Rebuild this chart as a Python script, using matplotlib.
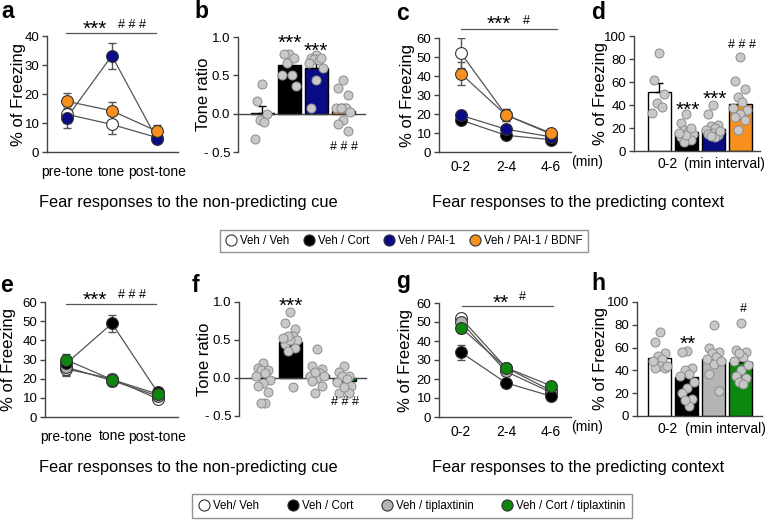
import numpy as np
import matplotlib
matplotlib.use("Agg")
import matplotlib.pyplot as plt
from matplotlib.lines import Line2D

plt.rcParams['font.family'] = ['Liberation Sans', 'DejaVu Sans']

# ---- colours ----
WHITE = '#ffffff'
BLACK = '#000000'
BLUE = '#0b0b86'
ORANGE = '#f7901e'
GRAY = '#b4b4b4'
GREEN = '#0d870d'
DOT = '#c8c8c8'

# ---- top row data ----
groups_top = ['Veh / Veh', 'Veh / Cort', 'Veh / PAI-1', 'Veh / PAI-1 / BDNF']
tone_labels = ['pre-tone', 'tone', 'post-tone']
time_labels = ['0-2', '2-4', '4-6']

# panel a (Veh/Cort not shown)
a_veh = [13, 9.5, 5]
a_veh_err = [3, 3.2, 1]
a_pai = [11.8, 33.2, 4.5]
a_pai_err = [3.5, 4.5, 1]
a_bdnf = [17.5, 14.2, 7.2]
a_bdnf_err = [3, 3, 2]

# panel b tone ratio
b_means = [0.005, 0.63, 0.59, 0.03]
b_sem = [0.1, 0.05, 0.07, 0.09]
b_dots = [
    [0.39, 0.17, -0.01, -0.08, -0.11, -0.33],
    [0.78, 0.78, 0.72, 0.66, 0.5, 0.5, 0.36],
    [0.77, 0.72, 0.71, 0.70, 0.72, 0.66, 0.59, 0.44, 0.07],
    [0.44, 0.34, 0.24, 0.07, 0.08, 0.02, 0.08, -0.08, -0.13, -0.22],
]

# panel c context freezing
c_veh = [52, 19.5, 9.5]
c_veh_err = [8, 3, 1.5]
c_cort = [16.8, 8.8, 6.5]
c_cort_err = [2, 1.5, 1]
c_pai = [19.3, 12, 8]
c_pai_err = [2, 2, 1.5]
c_bdnf = [41.2, 19.5, 10]
c_bdnf_err = [6, 3, 1.5]

# panel d
d_means = [51.5, 16.5, 19, 41]
d_sem = [8, 2.5, 2.5, 5.5]
d_dots = [
    [85, 62, 50, 42, 38, 33],
    [32, 24, 18, 17, 15, 12, 10, 8, 14, 16, 20],
    [40, 32, 23, 22, 20, 18, 16, 14, 12, 15, 17, 13],
    [82, 61, 54, 47, 43, 36, 32, 30, 27, 18, 37],
]

# ---- bottom row data ----
groups_bot = ['Veh/ Veh', 'Veh / Cort', 'Veh / tiplaxtinin', 'Veh / Cort / tiplaxtinin']

e_veh = [25, 20, 9.5]
e_veh_err = [3, 2, 1.5]
e_cort = [28, 48.8, 13]
e_cort_err = [3, 4.5, 2]
e_tip = [26, 19, 11]
e_tip_err = [4.5, 3, 1.5]
e_ctip = [29.8, 19.5, 12]
e_ctip_err = [3, 3, 2]

f_means = [0.0, 0.48, 0.04, -0.04]
f_sem = [0.05, 0.06, 0.04, 0.04]
f_dots = [
    [0.2, 0.13, 0.1, 0.11, 0.06, 0.03, -0.03, -0.06, -0.1, -0.19, -0.33, -0.33],
    [0.87, 0.73, 0.65, 0.55, 0.5, 0.45, 0.5, 0.4, 0.35, 0.55, 0.53, -0.12],
    [0.38, 0.12, 0.16, 0.07, 0.03, 0.0, 0.02, -0.04, -0.1, -0.2, 0.08],
    [0.16, 0.08, 0.03, 0.02, -0.01, -0.05, -0.1, -0.2, -0.2, -0.12],
]

g_veh = [52, 26, 14]
g_veh_err = [2, 2, 1.5]
g_cort = [34, 18, 11]
g_cort_err = [4, 2, 1.5]
g_tip = [50, 24, 13]
g_tip_err = [3, 2, 1.5]
g_ctip = [47, 26, 16.5]
g_ctip_err = [3, 2, 1.5]

h_means = [51, 34, 50, 47]
h_sem = [3, 4, 4, 4.5]
h_dots = [
    [74, 65, 55, 53, 50, 44, 42, 42, 44, 48],
    [57, 56, 42, 40, 37, 35, 30, 25, 20, 15, 9, 14],
    [80, 60, 56, 55, 52, 50, 46, 37, 22, 48],
    [82, 58, 56, 52, 48, 40, 35, 33, 30, 28, 45, 55],
]

W, H = 772, 520
fig = plt.figure(figsize=(W / 100, H / 100), dpi=100)


def rect(l, r, top, bot):
    return [l / W, 1 - bot / H, (r - l) / W, (bot - top) / H]


def ptext(x, y, s, size, **kw):
    # text placed in figure pixels (y from top, baseline)
    fig.text(x / W, 1 - y / H, s, fontsize=size, va='baseline', **kw)


def pline(x0, x1, y):
    fig.add_artist(Line2D([x0 / W, x1 / W], [1 - y / H, 1 - y / H],
                          transform=fig.transFigure, color='#555555', lw=0.9))


def style(ax, xpad=6):
    for s in ['top', 'right']:
        ax.spines[s].set_visible(False)
    for s in ['left', 'bottom']:
        ax.spines[s].set_color('#444444')
        ax.spines[s].set_linewidth(1)
    ax.tick_params(axis='y', direction='out', length=3.5, width=1, color='#444444',
                   labelsize=9.5, pad=2)
    ax.tick_params(axis='x', length=0, labelsize=10, pad=xpad)


def line_panel(ax, series, ylim, yticks, labels, ylabel, lx, xpad, xlim):
    style(ax, xpad)
    x = np.arange(3)
    for vals, errs, col in series:
        ax.errorbar(x, vals, yerr=errs, color='#555555', ecolor='#555555',
                    elinewidth=1, capsize=3, lw=0.9, zorder=2)
        ax.plot(x, vals, 'o', ms=8.5, mfc=col, mec='#333333', mew=0.8, zorder=3)
    ax.set_ylim(*ylim)
    ax.set_xlim(*xlim)
    ax.set_yticks(yticks)
    ax.set_xticks(x)
    ax.set_xticklabels(labels)
    ax.set_ylabel(ylabel, fontsize=12)
    ax.yaxis.set_label_coords(lx, 0.5)


def spread(vals):
    offs = [0.0, -0.18, 0.18, -0.09, 0.09, -0.26, 0.26]
    order = np.argsort(vals)[::-1]
    out = np.zeros(len(vals))
    for k, i in enumerate(order):
        out[i] = offs[k % len(offs)]
    return out


def bar_panel(ax, means, sems, dots, colors, ylim, yticks, xlim, ylabel, lx, zero_axis=False):
    style(ax)
    x = np.arange(len(means))
    ax.bar(x, means, width=0.85, color=colors, edgecolor='black', lw=1, zorder=2)
    for i in range(len(means)):
        ax.errorbar(x[i], means[i], yerr=[[0], [sems[i]]], color='black',
                    capsize=3, elinewidth=1, zorder=3)
        d = np.array(dots[i])
        ax.plot(x[i] + spread(d), d, 'o', ms=6.5, mfc=DOT, mec='#8c8c8c',
                mew=0.7, zorder=4, clip_on=False)
    ax.set_ylim(*ylim)
    ax.set_xlim(*xlim)
    ax.set_yticks(yticks)
    ax.set_xticks([])
    if zero_axis:
        ax.spines['bottom'].set_position(('data', 0))
    ax.set_ylabel(ylabel, fontsize=12)
    ax.yaxis.set_label_coords(lx, 0.5)


STAR = 15
HASH = 9

# ---- panel a ----
ax_a = fig.add_axes(rect(47, 178, 36, 152))
line_panel(ax_a, [(a_veh, a_veh_err, WHITE), (a_pai, a_pai_err, BLUE),
                  (a_bdnf, a_bdnf_err, ORANGE)],
           (0, 40), [0, 10, 20, 30, 40], tone_labels, '% of Freezing',
           (26 - 47) / 131, 9, (-0.44, 2.47))
pline(66, 156, 33)
ptext(94.5, 35, '***', STAR, ha='center')
ptext(132.5, 28.5, '# # #', HASH, ha='center')

# ---- panel b ----
ax_b = fig.add_axes(rect(238, 365, 37, 152))
bar_panel(ax_b, b_means, b_sem, b_dots, [WHITE, BLACK, BLUE, ORANGE],
          (-0.5, 1.0), [-0.5, 0, 0.5, 1.0], (-0.89, 3.81), 'Tone ratio', -0.21,
          zero_axis=True)
ax_b.set_yticklabels(['- 0.5', '0.0', '0.5', '1.0'])
ptext(289.5, 48.5, '***', STAR, ha='center')
ptext(316, 57, '***', STAR, ha='center')
ptext(344, 149.5, '# # #', HASH, ha='center')

# ---- panel c ----
ax_c = fig.add_axes(rect(439, 571, 38, 152))
line_panel(ax_c, [(c_veh, c_veh_err, WHITE), (c_cort, c_cort_err, BLACK),
                  (c_pai, c_pai_err, BLUE), (c_bdnf, c_bdnf_err, ORANGE)],
           (0, 60), [0, 10, 20, 30, 40, 50, 60], time_labels, '% of Freezing', -0.18, 6,
           (-0.49, 2.45))
pline(461, 557, 29)
ptext(499, 30, '***', STAR, ha='center')
ptext(526, 23.5, '#', HASH, ha='center')
ax_c.text(2.8, -5.5, '(min)', ha='center', va='center', fontsize=10, clip_on=False)

# ---- panel d ----
ax_d = fig.add_axes(rect(634, 760, 36, 151))
bar_panel(ax_d, d_means, d_sem, d_dots, [WHITE, BLACK, BLUE, ORANGE],
          (0, 100), [0, 20, 40, 60, 80, 100], (-0.93, 3.74), '% of Freezing', -0.206)
ptext(687.5, 115.5, '***', STAR, ha='center')
ptext(715, 105, '***', STAR, ha='center')
ptext(742.5, 48, '# # #', HASH, ha='center')
ax_d.text(0.3, -11, '0-2', ha='center', va='center', fontsize=10)
ax_d.text(2.44, -11, '(min interval)', ha='center', va='center', fontsize=10)

# ---- panel e ----
ax_e = fig.add_axes(rect(45, 178, 302, 417))
line_panel(ax_e, [(e_veh, e_veh_err, WHITE), (e_tip, e_tip_err, GRAY),
                  (e_cort, e_cort_err, BLACK), (e_ctip, e_ctip_err, GREEN)],
           (0, 60), [0, 10, 20, 30, 40, 50, 60], tone_labels, '% of Freezing',
           (16 - 45) / 133, 9, (-0.47, 2.45))
pline(66, 156, 304)
ptext(94.5, 306, '***', STAR, ha='center')
ptext(132.5, 298, '# # #', HASH, ha='center')

# ---- panel f ----
ax_f = fig.add_axes(rect(239, 366, 302, 416))
bar_panel(ax_f, f_means, f_sem, f_dots, [WHITE, BLACK, GRAY, GREEN],
          (-0.5, 1.0), [-0.5, 0, 0.5, 1.0], (-0.89, 3.81), 'Tone ratio', -0.21,
          zero_axis=True)
ax_f.set_yticklabels(['- 0.5', '0.0', '0.5', '1.0'])
ptext(290.5, 311.5, '***', STAR, ha='center')
ptext(345, 405, '# # #', HASH, ha='center')

# ---- panel g ----
ax_g = fig.add_axes(rect(439, 571, 303, 417))
line_panel(ax_g, [(g_veh, g_veh_err, WHITE), (g_tip, g_tip_err, GRAY),
                  (g_cort, g_cort_err, BLACK), (g_ctip, g_ctip_err, GREEN)],
           (0, 60), [0, 10, 20, 30, 40, 50, 60], time_labels, '% of Freezing', -0.197, 6,
           (-0.49, 2.45))
pline(462, 553, 306)
ptext(501, 308.5, '**', STAR, ha='center')
ptext(522.5, 300.5, '#', HASH, ha='center')
ax_g.text(2.8, -5.5, '(min)', ha='center', va='center', fontsize=10, clip_on=False)

# ---- panel h ----
ax_h = fig.add_axes(rect(637, 762, 302, 416))
bar_panel(ax_h, h_means, h_sem, h_dots, [WHITE, BLACK, GRAY, GREEN],
          (0, 100), [0, 20, 40, 60, 80, 100], (-0.85, 3.78), '% of Freezing', -0.23)
ptext(688, 350, '**', STAR, ha='center')
ptext(743.5, 312, '#', HASH, ha='center')
ax_h.text(0.3, -11, '0-2', ha='center', va='center', fontsize=10)
ax_h.text(2.44, -11, '(min interval)', ha='center', va='center', fontsize=10)

# ---- panel letters ----
for letter, px, py in [('a', 1, 18), ('b', 194, 18), ('c', 396, 20), ('d', 591, 19),
                       ('e', 0, 292), ('f', 192, 292), ('g', 396, 288), ('h', 591, 290)]:
    ptext(px, py, letter, 16.5, fontweight='bold', ha='left')

# ---- section captions ----
for py in [207, 472]:
    ptext(188.5, py, 'Fear responses to the non-predicting cue', 11.8, ha='center')
    ptext(578, py, 'Fear responses to the predicting context', 11.8, ha='center')


# ---- legends ----
def handles(colors, names):
    return [Line2D([], [], ls='', marker='o', ms=8, mfc=c, mec='#333333', mew=0.8, label=n)
            for c, n in zip(colors, names)]


leg1 = fig.legend(handles=handles([WHITE, BLACK, BLUE, ORANGE], groups_top), ncol=4,
                  loc='center', bbox_to_anchor=(404 / W, 1 - 241 / H), fontsize=8.3,
                  frameon=True, fancybox=False, edgecolor='#777777', handletextpad=0.3,
                  columnspacing=1.2, borderpad=0.45, handlelength=1.0)
leg1.get_frame().set_linewidth(1)
leg2 = fig.legend(handles=handles([WHITE, BLACK, GRAY, GREEN], groups_bot), ncol=4,
                  loc='center', bbox_to_anchor=(412 / W, 1 - 506 / H), fontsize=8.3,
                  frameon=True, fancybox=False, edgecolor='#777777', handletextpad=0.3,
                  columnspacing=2.4, borderpad=0.55, handlelength=1.0)
leg2.get_frame().set_linewidth(1)

fig.savefig('out.png', dpi=100)
